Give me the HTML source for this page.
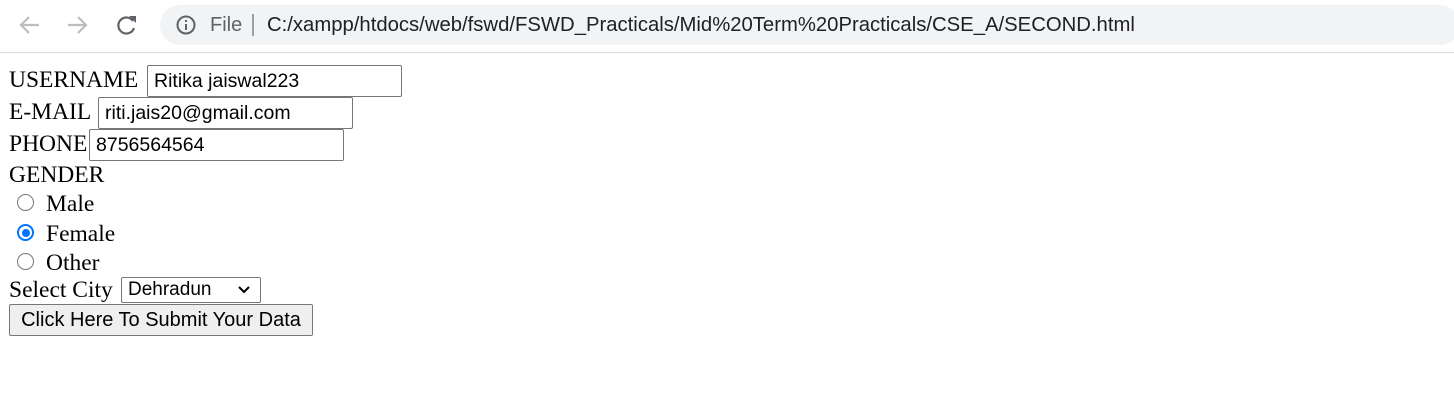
<!DOCTYPE html>
<html><head><style>
body{margin:0;width:1454px;height:405px;background:#fff;position:relative;overflow:hidden;font-family:"Liberation Serif",serif;}
.a{position:absolute;white-space:nowrap}
.t{font-size:23.5px;color:#000;line-height:24px}
.in{position:absolute;box-sizing:border-box;border:1px solid #767676;border-radius:2px;background:#fff;font-family:"Liberation Sans",sans-serif;font-size:19.5px;color:#000;padding-left:6px;line-height:30px}
.r{position:absolute;width:17px;height:17px;border:1px solid #767676;border-radius:50%;box-sizing:border-box;background:#fff}
</style></head><body>
<div class="a" style="left:0;top:0;width:1454px;height:52px;background:#fff;border-bottom:1px solid #dadce0"></div>
<svg class="a" style="left:0;top:0" width="160" height="52">
<g fill="none" stroke-width="2.2">
<path d="M39 25H21M29 17l-8 8 8 8" stroke="#bdbdbd"/>
<path d="M68 25h18M78 17l8 8-8 8" stroke="#bdbdbd"/>
<path d="M133 21a8 8 0 1 0 1 7" stroke="#5f6368"/>
</g>
<path d="M129 16h7v7z" fill="#5f6368"/>
</svg>
<div class="a" style="left:160px;top:5px;width:1300px;height:40px;border-radius:20px;background:#f1f3f4"></div>
<svg class="a" style="left:175px;top:14px" width="24" height="24"><circle cx="11" cy="11" r="8.5" fill="none" stroke="#5f6368" stroke-width="2"/><rect x="10" y="10" width="2" height="6" fill="#5f6368"/><rect x="10" y="6" width="2" height="2" fill="#5f6368"/></svg>
<div class="a" style="left:210px;top:13px;font-family:'Liberation Sans',sans-serif;font-size:20px;color:#5f6368;line-height:24px">File</div>
<div class="a" style="left:252px;top:14px;width:2px;height:22px;background:#9aa0a6"></div>
<div class="a" style="left:267px;top:13px;font-family:'Liberation Sans',sans-serif;font-size:20.3px;color:#202124;line-height:24px">C:/xampp/htdocs/web/fswd/FSWD_Practicals/Mid%20Term%20Practicals/CSE_A/SECOND.html</div>

<div class="a t" style="left:9px;top:68px">USERNAME</div>
<div class="in" style="left:147px;top:65px;width:255px;height:32px">Ritika jaiswal223</div>
<div class="a t" style="left:9px;top:100px">E-MAIL</div>
<div class="in" style="left:98px;top:97px;width:255px;height:32px">riti.jais20@gmail.com</div>
<div class="a t" style="left:9px;top:132px">PHONE</div>
<div class="in" style="left:89px;top:129px;width:255px;height:32px">8756564564</div>
<div class="a t" style="left:9px;top:163px">GENDER</div>
<div class="r" style="left:17px;top:194px"></div>
<div class="a t" style="left:46px;top:192px">Male</div>
<div class="r" style="left:17px;top:224px;border:2px solid #0075ff"><div style="position:absolute;left:2.5px;top:2.5px;width:8px;height:8px;border-radius:50%;background:#0075ff"></div></div>
<div class="a t" style="left:46px;top:222px">Female</div>
<div class="r" style="left:17px;top:253px"></div>
<div class="a t" style="left:46px;top:251px">Other</div>
<div class="a t" style="left:9px;top:278px">Select City</div>
<div class="in" style="left:121px;top:277px;width:140px;height:26px;line-height:24px;font-size:19px">Dehradun<svg style="position:absolute;right:10px;top:8px" width="12" height="8"><path d="M1 1l5 5 5-5" fill="none" stroke="#000" stroke-width="2"/></svg></div>
<div class="a" style="left:9px;top:304px;width:304px;height:32px;box-sizing:border-box;border:1px solid #767676;border-radius:2px;background:#efefef;font-family:'Liberation Sans',sans-serif;font-size:20px;line-height:30px;text-align:center;color:#000">Click Here To Submit Your Data</div>
</body></html>
